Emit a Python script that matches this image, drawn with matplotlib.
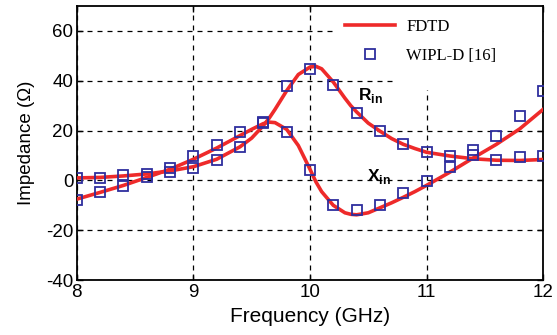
import matplotlib
matplotlib.use("Agg")
import matplotlib.pyplot as plt
from matplotlib.patches import Rectangle

plt.rcParams["axes.unicode_minus"] = False
plt.rcParams["mathtext.fontset"] = "custom"
plt.rcParams["mathtext.rm"] = "Liberation Sans"
plt.rcParams["mathtext.bf"] = "Liberation Sans:bold"

# FDTD curves
f_fdtd = [8.0, 8.2, 8.4, 8.6, 8.8, 9.0, 9.2, 9.4, 9.5, 9.6, 9.65, 9.7, 9.8, 9.9,
          10.0, 10.05, 10.1, 10.2, 10.3, 10.35, 10.4, 10.5, 10.6, 10.7, 10.8, 10.9,
          11.0, 11.2, 11.4, 11.6, 11.8, 12.0]
r_fdtd = [1.0, 1.2, 1.8, 2.6, 3.8, 5.5, 8.5, 13.5, 17.0, 22.0, 25.0, 28.5, 36.0, 42.5,
          45.5, 45.8, 44.8, 39.5, 33.0, 30.0, 27.5, 23.0, 19.8, 16.8, 14.5, 12.8,
          11.3, 9.8, 8.7, 8.1, 8.0, 8.4]
x_fdtd = [-7.5, -4.8, -2.0, 1.2, 4.5, 8.5, 13.0, 18.0, 20.5, 22.8, 23.4, 23.2, 20.5, 14.0,
          4.5, -0.5, -4.5, -10.0, -13.0, -13.6, -13.8, -13.0, -11.0, -9.0, -6.8, -4.5,
          -2.0, 3.3, 9.0, 14.5, 20.7, 28.5]

# WIPL-D [16] samples
f_wipl = [8.0, 8.2, 8.4, 8.6, 8.8, 9.0, 9.2, 9.4, 9.6, 9.8, 10.0, 10.2, 10.4,
          10.6, 10.8, 11.0, 11.2, 11.4, 11.6, 11.8, 12.0]
r_wipl = [1.1, 1.1, 2.0, 2.7, 3.3, 5.0, 8.0, 13.3, 23.0, 37.7, 44.7, 38.3, 27.0,
          20.0, 14.6, 11.3, 10.0, 10.2, 8.3, 9.3, 10.0]
x_wipl = [-7.7, -4.7, -2.4, 1.3, 5.0, 9.6, 14.3, 19.3, 23.5, 19.3, 4.0, -9.7, -12.0,
          -9.7, -5.0, -0.3, 5.3, 12.3, 17.7, 25.7, 36.0]

red = "#ee2a2a"
blue = "#2e2e9e"

fig = plt.figure(figsize=(5.57, 3.35), dpi=100)
ax = fig.add_axes([0.138, 0.164, 0.837, 0.818])
ax.set_axisbelow(True)

ax.plot(f_fdtd, r_fdtd, color=red, lw=2.6, zorder=3, label="FDTD")
ax.plot(f_fdtd, x_fdtd, color=red, lw=2.6, zorder=3)
ax.plot(f_wipl, r_wipl, ls="none", marker="s", ms=6.5, mfc="none", mec=blue,
        mew=1.3, zorder=4, label="WIPL-D [16]")
ax.plot(f_wipl, x_wipl, ls="none", marker="s", ms=6.5, mfc="none", mec=blue,
        mew=1.3, zorder=4)

ax.set_xlim(8, 12)
ax.set_ylim(-40, 70)
ax.set_xticks([8, 9, 10, 11, 12])
ax.set_yticks([-40, -20, 0, 20, 40, 60])
ax.grid(True, color="black", ls=(0, (4, 4)), lw=0.9)

# white patches behind the legend hide part of the grid
ax.add_patch(Rectangle((10.71, 36.4), 1.29, 33.6, facecolor="white",
                       edgecolor="none", zorder=1))
ax.add_patch(Rectangle((10.2, 45.0), 0.52, 25.0, facecolor="white",
                       edgecolor="none", zorder=1))

for s in ax.spines.values():
    s.set_linewidth(1.3)
ax.tick_params(direction="in", top=True, right=True, length=4, width=1,
               labelsize=13.5, pad=2.5)
for lab in ax.get_xticklabels() + ax.get_yticklabels():
    lab.set_family("Liberation Sans")

ax.set_xlabel("Frequency (GHz)", fontsize=15, family="Liberation Sans", labelpad=5)
ax.set_ylabel("Impedance (\u03a9)", fontsize=13.5, family="Liberation Sans", labelpad=8)

ax.text(10.41, 34, r"$\mathbf{R}_{\mathbf{in}}$", fontsize=12.5, ha="left", va="center",
        zorder=5)
ax.text(10.49, 1.5, r"$\mathbf{X}_{\mathbf{in}}$", fontsize=12.5, ha="left", va="center",
        zorder=5)

leg = ax.legend(loc="upper right", bbox_to_anchor=(0.925, 0.995), frameon=False,
                prop={"family": "Liberation Serif", "size": 12},
                handlelength=3.0, handletextpad=0.7, labelspacing=0.75,
                borderaxespad=0.3)

fig.savefig("out.png", dpi=100)
